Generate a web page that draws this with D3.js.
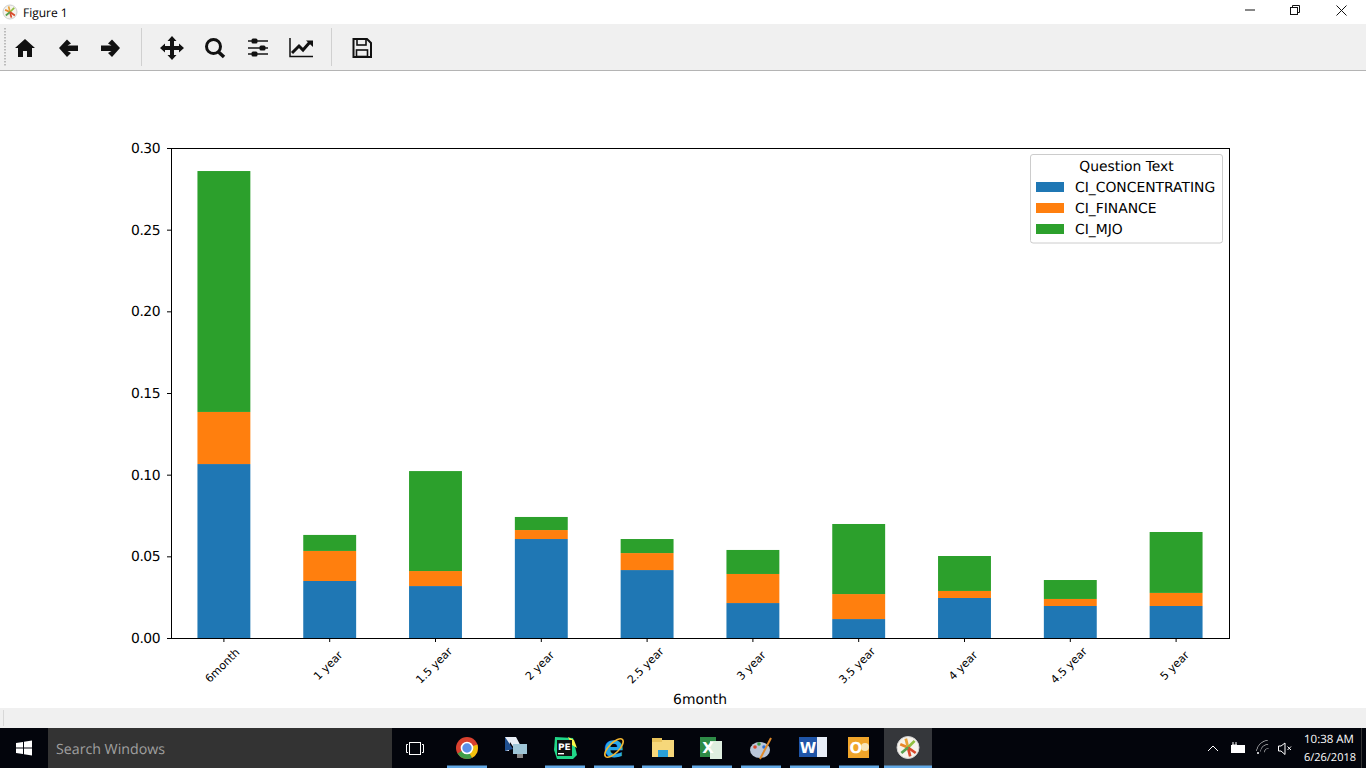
<!DOCTYPE html>
<html><head><meta charset="utf-8">
<script src="https://cdn.jsdelivr.net/npm/d3@7"></script>
<style>
html,body{margin:0;padding:0;background:#fff;overflow:hidden}
svg{display:block}
text{font-family:"DejaVu Sans",sans-serif;text-rendering:geometricPrecision}
.ui{font-family:"Open Sans","Noto Sans",sans-serif}
</style></head><body>
<svg id="s" width="1366" height="768"></svg>
<script>
const categories=["6month","1 year","1.5 year","2 year","2.5 year","3 year","3.5 year","4 year","4.5 year","5 year"];
const seriesNames=["CI_CONCENTRATING","CI_FINANCE","CI_MJO"];
const concentrating=[0.1065,0.0349,0.0318,0.0606,0.0416,0.0214,0.0116,0.0245,0.0196,0.0196];
const finance=[0.0319,0.0184,0.0092,0.0055,0.0104,0.0178,0.0153,0.0043,0.0043,0.0080];
const mjo=[0.1475,0.0098,0.0612,0.0080,0.0086,0.0147,0.0429,0.0214,0.0116,0.0373];
const yTicks=[0,0.05,0.10,0.15,0.20,0.25,0.30];
const colors=["#1f77b4","#ff7f0e","#2ca02c"];
const seriesValues=[concentrating,finance,mjo];

const svg=d3.select("#s");
// window chrome
svg.append("rect").attr("width",1366).attr("height",768).attr("fill","#fff");
svg.append("rect").attr("y",24).attr("width",1366).attr("height",46).attr("fill","#f0f0f0");
svg.append("rect").attr("y",70).attr("width",1366).attr("height",1).attr("fill","#b4b4b4");
svg.append("rect").attr("y",708).attr("width",1366).attr("height",20).attr("fill","#f0f0f0");
svg.append("rect").attr("x",3).attr("y",710).attr("width",1).attr("height",16).attr("fill","#d8d8d8");
svg.append("text").attr("class","ui").attr("x",23).attr("y",16.5).attr("font-size",12).attr("fill","#000").text("Figure 1");
// app icon
function appIcon(g,cx,cy,r){
  g.append("circle").attr("cx",cx).attr("cy",cy).attr("r",r).attr("fill","#f6f3ec").attr("stroke","#cfcfcf");
  [[-.7,-.3,"#e8862a"],[-.2,-.8,"#e8a23a"],[.6,-.6,"#8fbf3f"],[.7,.5,"#d9482b"],[.2,.8,"#d9482b"],[-.6,.5,"#59a14f"]].forEach(d=>{
    g.append("line").attr("x1",cx).attr("y1",cy).attr("x2",cx+d[0]*r).attr("y2",cy+d[1]*r).attr("stroke",d[2]).attr("stroke-width",r/4);
  });
}
appIcon(svg,10,12,7);
// window buttons
svg.append("line").attr("x1",1245).attr("x2",1255).attr("y1",10).attr("y2",10).attr("stroke","#111");
svg.append("rect").attr("x",1290.5).attr("y",7.5).attr("width",7).attr("height",7).attr("fill","#fff").attr("stroke","#111");
svg.append("path").attr("d","M1292.5 7.5V5.5H1299.5V12.5H1297.5").attr("fill","none").attr("stroke","#111");
svg.append("path").attr("d","M1336.5 5.5L1346.5 15.5M1346.5 5.5L1336.5 15.5").attr("stroke","#111").attr("fill","none");
// toolbar handle + separators
for(let y=28;y<66;y+=3)svg.append("rect").attr("x",4).attr("y",y).attr("width",2).attr("height",1.5).attr("fill","#bbb");
[141,331].forEach(x=>svg.append("rect").attr("x",x).attr("y",28).attr("width",1).attr("height",38).attr("fill","#d0d0d0"));
const tb=svg.append("g").attr("fill","#111");
tb.append("path").attr("d","M25 39L15 48H18V57H23V51H27V57H32V48H35L25 39Z");
tb.append("path").attr("d","M59 48L67 39.5L71 43.5L67.5 45.5H78V51H67.5L71 53L67 57Z");
tb.append("path").attr("d","M120 48L112 39.5L108 43.5L111.5 45.5H101V51H111.5L108 53L112 57Z");
tb.append("path").attr("d","M172 36L176.5 41H174V46H179V43.5L184 48L179 52.5V50H174V55H176.5L172 60L167.5 55H170V50H165V52.5L160 48L165 43.5V46H170V41H167.5Z");
svg.append("circle").attr("cx",213.5).attr("cy",46.5).attr("r",7).attr("fill","none").attr("stroke","#111").attr("stroke-width",3);
svg.append("line").attr("x1",218).attr("y1",51.5).attr("x2",224).attr("y2",57).attr("stroke","#111").attr("stroke-width",3.5);
[[41,254],[48,262],[54,254]].forEach(d=>{
  svg.append("line").attr("x1",248).attr("x2",268).attr("y1",d[0]).attr("y2",d[0]).attr("stroke","#222").attr("stroke-width",1.6);
  svg.append("rect").attr("x",d[1]-2.5).attr("y",d[0]-2.5).attr("width",6).attr("height",5).attr("rx",1.5).attr("fill","#111");
});
svg.append("path").attr("d","M290 38V56.5H313").attr("fill","none").attr("stroke","#111").attr("stroke-width",1.5);
svg.append("path").attr("d","M292 53L299 46L303 50L310 42").attr("fill","none").attr("stroke","#111").attr("stroke-width",3);
svg.append("path").attr("d","M306 40.5H313V47Z").attr("fill","#111");
svg.append("path").attr("d","M353.5 39H367L371 43V57H353.5Z").attr("fill","none").attr("stroke","#111").attr("stroke-width",2);
svg.append("rect").attr("x",357).attr("y",39).attr("width",9).attr("height",6).attr("fill","none").attr("stroke","#111").attr("stroke-width",1.6);
svg.append("rect").attr("x",356.5).attr("y",50).attr("width",11).attr("height",6.5).attr("fill","none").attr("stroke","#111").attr("stroke-width",1.6);

// chart
const x=d3.scaleBand().domain(categories).range([171,1229]).paddingInner(0.5).paddingOuter(0.25);
const y=d3.scaleLinear().domain([0,0.30]).range([638,148]);
const rows=categories.map((c,i)=>{const o={cat:c};seriesNames.forEach((s,j)=>o[s]=seriesValues[j][i]);return o;});
const stacked=d3.stack().keys(seriesNames)(rows);
const bars=svg.append("g");
stacked.forEach((layer,j)=>{
  bars.selectAll(null).data(layer).enter().append("rect")
    .attr("x",d=>x(d.data.cat)).attr("width",x.bandwidth())
    .attr("y",d=>y(d[1])).attr("height",d=>y(d[0])-y(d[1])).attr("fill",colors[j]);
});
const yAxis=svg.append("g").attr("transform","translate(171,0)")
  .call(d3.axisLeft(y).tickValues(yTicks).tickFormat(d3.format(".2f")).tickSize(4).tickPadding(7));
yAxis.select(".domain").remove();
yAxis.selectAll("text").attr("font-size",13.89).attr("fill","#000").style("font-family",'"DejaVu Sans"').style("letter-spacing","-0.5px");
yAxis.selectAll("line").attr("stroke","#000");
const xAxis=svg.append("g").attr("transform","translate(0,638)")
  .call(d3.axisBottom(x).tickSize(4).tickSizeOuter(0));
xAxis.select(".domain").remove();
xAxis.selectAll("line").attr("stroke","#000");
xAxis.selectAll("text").attr("font-size",11.1).attr("fill","#000").style("font-family",'"DejaVu Sans"')
  .attr("text-anchor","middle").attr("dy",null).attr("y",null)
  .attr("transform","translate(-1,28) rotate(-45)").attr("dominant-baseline","middle");
svg.append("rect").attr("x",171.5).attr("y",148.5).attr("width",1058).attr("height",490).attr("fill","none").attr("stroke","#000").attr("stroke-width",1);
svg.append("text").attr("x",700).attr("y",704).attr("text-anchor","middle").attr("font-size",13.89).attr("fill","#000").text("6month");
// legend
const lg=svg.append("g");
lg.append("rect").attr("x",1030.5).attr("y",154.5).attr("width",192).attr("height",88.5).attr("rx",2.5).attr("fill","#fff").attr("fill-opacity",.8).attr("stroke","#ccc");
lg.append("text").attr("x",1126.5).attr("y",171).attr("text-anchor","middle").attr("font-size",13.89).attr("fill","#000").text("Question Text");
seriesNames.forEach((s,i)=>{
  const yy=182+i*21;
  lg.append("rect").attr("x",1036).attr("y",yy).attr("width",28).attr("height",10).attr("fill",colors[i]);
  lg.append("text").attr("x",1075).attr("y",yy+10).attr("font-size",13.89).attr("fill","#000").text(s);
});

// taskbar
svg.append("rect").attr("y",728).attr("width",1366).attr("height",40).attr("fill","#03050c");
svg.append("rect").attr("x",48).attr("y",728).attr("width",344).attr("height",40).attr("fill","#333333");
svg.append("text").attr("class","ui").attr("x",56).attr("y",754).attr("font-size",14.2).attr("fill","#a0a0a0").text("Search Windows");
svg.append("path").attr("d","M16 743L23 742V747.5H16ZM24 741.8L32 740.5V747.5H24ZM16 748.5H23V754L16 753ZM24 748.5H32V755.5L24 754.2Z").attr("fill","#fff");
svg.append("rect").attr("x",409.5).attr("y",742.5).attr("width",11).attr("height",12).attr("fill","none").attr("stroke","#fff");
svg.append("path").attr("d","M408 744.5H406.5V752.5H408M422 744.5H423.5V752.5H422").attr("fill","none").attr("stroke","#fff");
svg.append("rect").attr("x",884).attr("y",728).attr("width",48).attr("height",40).attr("fill","#35373b");
// underlines of running apps
[[447,40],[545,40],[594,40],[642,40],[692,40],[741,40],[790,40],[839,40],[884,48]].forEach(d=>
  svg.append("rect").attr("x",d[0]).attr("y",765.5).attr("width",d[1]).attr("height",2.5).attr("fill","#63a9e6"));
// chrome
svg.append("circle").attr("cx",467).attr("cy",748).attr("r",11).attr("fill","#d9412f");
svg.append("path").attr("d","M467 748L457.5 753.5A11 11 0 0 0 472 757.8Z").attr("fill","#3f9e48");
svg.append("path").attr("d","M467 748L472 757.8A11 11 0 0 0 477.5 744.5Z").attr("fill","#f4c20d");
svg.append("circle").attr("cx",467).attr("cy",748).attr("r",5.5).attr("fill","#5b8fe8").attr("stroke","#fff").attr("stroke-width",1.6);
// vm icon
svg.append("path").attr("d","M505 737H516L524 752L518 754L510 742L509 751H505Z").attr("fill","#e8eef6");
svg.append("path").attr("d","M505 737L513 749L505 751Z").attr("fill","#1f4f8f");
svg.append("rect").attr("x",513).attr("y",744).attr("width",14).attr("height",10).attr("fill","#9fc6d8");
svg.append("rect").attr("x",517).attr("y",754).attr("width",6).attr("height",4).attr("fill","#888");
// pycharm
svg.append("path").attr("d","M555 737L573 738L577 755L573 759L557 759L554 750Z").attr("fill","#21d789");
svg.append("path").attr("d","M568 737L574 740L577 748L572 745Z").attr("fill","#fcf84a");
svg.append("rect").attr("x",557).attr("y",740).attr("width",15).attr("height",16).attr("fill","#111");
svg.append("text").attr("x",558).attr("y",750).attr("font-size",9).attr("font-weight","bold").attr("fill","#fff").text("PE");
svg.append("rect").attr("x",558).attr("y",753).attr("width",6).attr("height",1.4).attr("fill","#fff");
// IE
svg.append("text").attr("x",614).attr("y",757).attr("text-anchor","middle").attr("font-size",30).attr("font-weight","bold").attr("fill","#29a8e8").text("e");
svg.append("ellipse").attr("cx",614).attr("cy",748).attr("rx",12).attr("ry",5).attr("transform","rotate(-45 614 748)").attr("fill","none").attr("stroke","#f2b632").attr("stroke-width",1.6);
// explorer
svg.append("rect").attr("x",652).attr("y",740).attr("width",22).attr("height",17).attr("fill","#f6d77a");
svg.append("rect").attr("x",652).attr("y",738).attr("width",10).attr("height",4).attr("fill","#e8c25a");
svg.append("rect").attr("x",658).attr("y",750).attr("width",10).attr("height",7).attr("fill","#2aa0d8");
// excel
svg.append("rect").attr("x",700).attr("y",737).attr("width",16).attr("height",20).attr("fill","#2e8b47");
svg.append("path").attr("d","M710 741H722V759H710Z").attr("fill","#dfeee0");
svg.append("text").attr("x",708).attr("y",753).attr("text-anchor","middle").attr("font-size",15).attr("font-weight","bold").attr("fill","#fff").text("X");
// paint
svg.append("ellipse").attr("cx",760).attr("cy",750).attr("rx",10).attr("ry",8).attr("fill","#b9c6d8");
[["#d9482b",755,747],["#3f9e48",759,744],["#2a6fd6",764,747]].forEach(d=>svg.append("circle").attr("cx",d[1]).attr("cy",d[2]).attr("r",1.8).attr("fill",d[0]));
svg.append("line").attr("x1",760).attr("y1",759).attr("x2",771).attr("y2",738).attr("stroke","#e08a2a").attr("stroke-width",2);
// word
svg.append("rect").attr("x",811).attr("y",737).attr("width",16).attr("height",20).attr("fill","#e8eef8");
svg.append("rect").attr("x",799).attr("y",737).attr("width",18).attr("height",20).attr("fill","#1f55a8");
svg.append("text").attr("x",808).attr("y",753).attr("text-anchor","middle").attr("font-size",15).attr("font-weight","bold").attr("fill","#fff").text("W");
// outlook
svg.append("rect").attr("x",848).attr("y",737).attr("width",21).attr("height",21).attr("fill","#f0a52a");
svg.append("text").attr("x",856).attr("y",753).attr("text-anchor","middle").attr("font-size",15).attr("font-weight","bold").attr("fill","#fff").text("O");
svg.append("circle").attr("cx",865).attr("cy",747).attr("r",4).attr("fill","#f8e6b8");
appIcon(svg,908,747.5,11);
// tray
svg.append("path").attr("d","M1208 751L1213 746L1218 751").attr("fill","none").attr("stroke","#fff");
svg.append("rect").attr("x",1231.5).attr("y",745.5).attr("width",13).attr("height",7).attr("fill","#fff").attr("stroke","#fff");
svg.append("path").attr("d","M1233 742V745M1236 742V745M1232 745H1237").attr("stroke","#fff").attr("fill","none");
[5,9,13].forEach(r=>svg.append("path").attr("d",d3.arc()({innerRadius:r-.5,outerRadius:r,startAngle:-.1,endAngle:-1.4})).attr("transform","translate(1269,753)").attr("fill","#fff"));
svg.append("circle").attr("cx",1258).attr("cy",753).attr("r",1).attr("fill","#fff");
svg.append("path").attr("d","M1278.5 746V751H1281L1285 754.5V743L1281 746Z").attr("fill","none").attr("stroke","#fff");
svg.append("path").attr("d","M1287.5 746.5L1291 750M1291 746.5L1287.5 750").attr("stroke","#fff");
svg.append("text").attr("class","ui").attr("x",1329).attr("y",743).attr("text-anchor","middle").attr("font-size",11.5).attr("fill","#fff").text("10:38 AM");
svg.append("text").attr("class","ui").attr("x",1330).attr("y",761).attr("text-anchor","middle").attr("font-size",11).attr("fill","#fff").text("6/26/2018");
svg.append("rect").attr("x",1361).attr("y",728).attr("width",1).attr("height",40).attr("fill","#333");
</script>
</body></html>
